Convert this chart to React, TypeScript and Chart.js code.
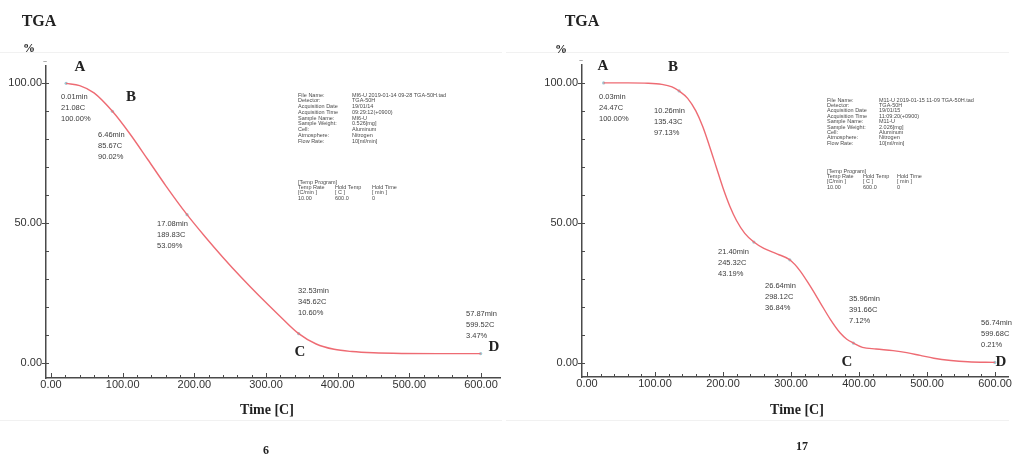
import React, { useEffect, useRef } from "react";
import { Chart, registerables } from "chart.js";

Chart.register(...registerables);

// ---------- data ----------
const X_MAJOR = [0, 100, 200, 300, 400, 500, 600];
const Y_MAJOR = [0, 50, 100];

// Sample 6 (left)
const LEFT_TEMP = [21.08, 40, 60, 85.67, 110, 135, 160, 189.83, 215, 240, 265, 290, 318, 345.62, 370, 395, 420, 450, 490, 540, 599.52];
const LEFT_MASS = [100, 99.2, 96.6, 90.02, 82, 72.8, 63.5, 53.09, 45.2, 37.8, 30.8, 24.2, 17.2, 10.6, 6.9, 5.0, 4.2, 3.75, 3.52, 3.46, 3.47];
const LEFT_MARK_TEMP = [21.08, 85.67, 189.83, 345.62, 599.52];
const LEFT_MARK_MASS = [100, 90.02, 53.09, 10.6, 3.47];
const LEFT_MARK_TEXT = [
  ["0.01min", "21.08C", "100.00%"],
  ["6.46min", "85.67C", "90.02%"],
  ["17.08min", "189.83C", "53.09%"],
  ["32.53min", "345.62C", "10.60%"],
  ["57.87min", "599.52C", "3.47%"],
];
const LEFT_INFO_VALUES = ["MI6-U 2019-01-14 09-28 TGA-50H.tad", "TGA-50H", "19/01/14", "09:29:12(+0900)", "MI6-U", "0.526[mg]", "Aluminum", "Nitrogen", "10[ml/min]"];
const LEFT_NUMBER = "6";

// Sample 17 (right)
const RIGHT_TEMP = [24.47, 60, 90, 110, 125, 135.43, 148, 160, 170, 180, 190, 200, 210, 220, 232, 245.32, 260, 280, 298.12, 313, 328, 343, 358, 372, 382, 391.66, 405, 425, 450, 470, 490, 510, 535, 560, 599.68];
const RIGHT_MASS = [100, 100, 99.9, 99.5, 98.6, 97.13, 94.5, 90.0, 84.5, 77.5, 70.0, 62.5, 56.0, 50.8, 46.3, 43.19, 40.9, 38.9, 36.84, 33.0, 27.5, 21.5, 15.5, 10.8, 8.5, 7.12, 5.6, 5.0, 4.4, 3.7, 2.7, 1.7, 0.9, 0.45, 0.21];
const RIGHT_MARK_TEMP = [24.47, 135.43, 245.32, 298.12, 391.66, 599.68];
const RIGHT_MARK_MASS = [100, 97.13, 43.19, 36.84, 7.12, 0.21];
const RIGHT_MARK_TEXT = [
  ["0.03min", "24.47C", "100.00%"],
  ["10.26min", "135.43C", "97.13%"],
  ["21.40min", "245.32C", "43.19%"],
  ["26.64min", "298.12C", "36.84%"],
  ["35.96min", "391.66C", "7.12%"],
  ["56.74min", "599.68C", "0.21%"],
];
const RIGHT_INFO_VALUES = ["M11-U 2019-01-15 11-09 TGA-50H.tad", "TGA-50H", "19/01/15", "11:09:20(+0900)", "M11-U", "2.026[mg]", "Aluminum", "Nitrogen", "10[ml/min]"];
const RIGHT_NUMBER = "17";

const INFO_KEYS = ["File Name:", "Detector:", "Acquisition Date", "Acquisition Time", "Sample Name:", "Sample Weight:", "Cell:", "Atmosphere:", "Flow Rate:"];
const TEMP_PROGRAM = [
  ["[Temp Program]"],
  ["Temp Rate", "Hold Temp", "Hold Time"],
  ["[C/min ]", "[ C ]", "[ min ]"],
  ["10.00", "600.0", "0"],
];
const POINT_LETTERS = ["A", "B", "C", "D"];
const CHART_TITLE = "TGA";
const Y_UNIT = "%";
const X_TITLE = "Time [C]";

// ---------- layout (canvas-local pixels) ----------
const H = 459;
const LEFT_LAYOUT = {
  offset: 0, width: 506,
  area: { left: 46, right: 500, top: 66, bottom: 378 },
  x: { min: -7, max: 626.5 }, y: { min: -5.25, max: 106.2 },
  title: [39, 22], unit: [29, 49], xTitle: [267, 410], number: [266, 451],
  letters: [[80, 67], [131, 97], [300, 352], [494, 347]],
  labels: [[61, 97], [98, 135], [157, 224], [298, 291], [466, 314]],
  labelStep: 11,
  info: { x: 298, col: 352, y: 95, step: 5.75, tpY: 182, tpStep: 5.4, tpCols: [298, 335, 372] },
};
const RIGHT_LAYOUT = {
  offset: 506, width: 507,
  area: { left: 76, right: 502, top: 65, bottom: 377 },
  x: { min: -7.35, max: 619 }, y: { min: -5, max: 106.4 },
  title: [76, 22], unit: [55, 50], xTitle: [291, 410], number: [296, 447],
  letters: [[97, 66], [167, 67], [341, 362], [495, 362]],
  labels: [[93, 97], [148, 111], [212, 252], [259, 286], [343, 299], [475, 323]],
  labelStep: 10.8,
  info: { x: 321, col: 373, y: 100, step: 5.4, tpY: 171, tpStep: 5.4, tpCols: [321, 357, 391] },
};

const CURVE_COLOR = "#ee6b73";
const AXIS_COLOR = "#4a4a4a";

type Panel = {
  layout: typeof LEFT_LAYOUT;
  temp: number[]; mass: number[];
  markTemp: number[]; markMass: number[]; markText: string[][];
  infoValues: string[]; number: string;
};

const PANELS: Panel[] = [
  { layout: LEFT_LAYOUT, temp: LEFT_TEMP, mass: LEFT_MASS, markTemp: LEFT_MARK_TEMP, markMass: LEFT_MARK_MASS, markText: LEFT_MARK_TEXT, infoValues: LEFT_INFO_VALUES, number: LEFT_NUMBER },
  { layout: RIGHT_LAYOUT, temp: RIGHT_TEMP, mass: RIGHT_MASS, markTemp: RIGHT_MARK_TEMP, markMass: RIGHT_MARK_MASS, markText: RIGHT_MARK_TEXT, infoValues: RIGHT_INFO_VALUES, number: RIGHT_NUMBER },
];

function overlay(p: Panel) {
  const L = p.layout;
  return {
    id: "overlay",
    beforeDraw(chart: any) {
      const ctx = chart.ctx;
      ctx.save();
      ctx.fillStyle = "#ffffff";
      ctx.fillRect(0, 0, chart.width, chart.height);
      ctx.strokeStyle = "#f1f1f1";
      ctx.lineWidth = 1;
      ctx.beginPath();
      ctx.moveTo(0, 52.5); ctx.lineTo(chart.width - 4, 52.5);
      ctx.moveTo(0, 420.5); ctx.lineTo(chart.width - 4, 420.5);
      ctx.stroke();
      ctx.restore();
    },
    afterDraw(chart: any) {
      const ctx = chart.ctx;
      const xs = chart.scales.x;
      const ys = chart.scales.y;
      const a = chart.chartArea;
      ctx.save();
      // ticks
      ctx.strokeStyle = AXIS_COLOR;
      ctx.lineWidth = 1;
      ctx.beginPath();
      for (let v = 0; v <= 600; v += 20) {
        const px = Math.round(xs.getPixelForValue(v)) + 0.5;
        const major = v % 100 === 0;
        ctx.moveTo(px, a.bottom);
        ctx.lineTo(px, a.bottom - (major ? 5 : 3));
      }
      for (let v = 0; v <= 100; v += 10) {
        const py = Math.round(ys.getPixelForValue(v)) + 0.5;
        const major = v % 50 === 0;
        ctx.moveTo(a.left - (major ? 4 : 0), py);
        ctx.lineTo(a.left + 3, py);
      }
      ctx.stroke();
      // axis top squiggle
      ctx.fillStyle = "#666";
      ctx.font = "7px 'Liberation Sans', Arial, sans-serif";
      ctx.textAlign = "center";
      ctx.textBaseline = "middle";
      ctx.fillText("~", a.left - 1, a.top - 4);

      // titles
      ctx.fillStyle = "#222";
      ctx.font = "bold 16px 'Liberation Serif', 'Times New Roman', serif";
      ctx.fillText(CHART_TITLE, L.title[0], L.title[1]);
      ctx.font = "bold 12px 'Liberation Serif', 'Times New Roman', serif";
      ctx.fillText(Y_UNIT, L.unit[0], L.unit[1]);
      ctx.font = "bold 14px 'Liberation Serif', 'Times New Roman', serif";
      ctx.fillText(X_TITLE, L.xTitle[0], L.xTitle[1]);
      ctx.font = "bold 12px 'Liberation Serif', 'Times New Roman', serif";
      ctx.fillText(p.number, L.number[0], L.number[1]);

      // letters
      ctx.font = "bold 15px 'Liberation Serif', 'Times New Roman', serif";
      POINT_LETTERS.forEach((t, i) => {
        ctx.fillText(t, L.letters[i][0], L.letters[i][1]);
      });

      // point annotations
      ctx.fillStyle = "#3c3c3c";
      ctx.font = "7.5px 'Liberation Sans', Arial, sans-serif";
      ctx.textAlign = "left";
      p.markText.forEach((lines, i) => {
        lines.forEach((t, j) => {
          ctx.fillText(t, L.labels[i][0], L.labels[i][1] + j * L.labelStep);
        });
      });

      // info box
      ctx.fillStyle = "#4a4a4a";
      ctx.font = "5.5px 'Liberation Sans', Arial, sans-serif";
      INFO_KEYS.forEach((k, i) => {
        const y = L.info.y + i * L.info.step;
        ctx.fillText(k, L.info.x, y);
        ctx.fillText(p.infoValues[i], L.info.col, y);
      });
      TEMP_PROGRAM.forEach((row, i) => {
        const y = L.info.tpY + i * L.info.tpStep;
        row.forEach((t, j) => ctx.fillText(t, L.info.tpCols[j], y));
      });
      ctx.restore();
    },
  };
}

function PanelChart({ p }: { p: Panel }) {
  const ref = useRef<HTMLCanvasElement | null>(null);
  useEffect(() => {
    const L = p.layout;
    const canvas = ref.current!;
    const curve = p.temp.map((t, i) => ({ x: t, y: p.mass[i] }));
    const marks = p.markTemp.map((t, i) => ({ x: t, y: p.markMass[i] }));
    const chart = new Chart(canvas, {
      type: "scatter",
      data: {
        datasets: [
          {
            data: curve,
            showLine: true,
            borderColor: CURVE_COLOR,
            borderWidth: 1.4,
            pointRadius: 0,
            cubicInterpolationMode: "monotone",
            fill: false,
          } as any,
          {
            data: marks,
            showLine: false,
            pointRadius: 1.6,
            pointBackgroundColor: "#9fc9d3",
            pointBorderWidth: 0,
          } as any,
        ],
      },
      options: {
        responsive: false,
        animation: false,
        events: [],
        layout: { padding: { left: 0, top: L.area.top, right: L.width - L.area.right, bottom: 0 } },
        plugins: { legend: { display: false }, tooltip: { enabled: false } },
        scales: {
          x: {
            type: "linear",
            min: L.x.min,
            max: L.x.max,
            grid: { display: false, drawTicks: false },
            border: { display: true, color: AXIS_COLOR, width: 1.5 },
            ticks: {
              padding: 0,
              color: "#333",
              font: { family: "'Liberation Sans', Arial, sans-serif", size: 11 },
              maxRotation: 0,
              autoSkip: false,
              callback: (v: any) => Number(v).toFixed(2),
            },
            afterBuildTicks: (s: any) => { s.ticks = X_MAJOR.map((v) => ({ value: v })); },
            afterFit: (s: any) => { s.height = H - L.area.bottom; },
          },
          y: {
            type: "linear",
            min: L.y.min,
            max: L.y.max,
            grid: { display: false, drawTicks: false },
            border: { display: true, color: AXIS_COLOR, width: 1.5 },
            ticks: {
              padding: 4,
              color: "#333",
              font: { family: "'Liberation Sans', Arial, sans-serif", size: 11 },
              autoSkip: false,
              callback: (v: any) => Number(v).toFixed(2),
            },
            afterBuildTicks: (s: any) => { s.ticks = Y_MAJOR.map((v) => ({ value: v })); },
            afterFit: (s: any) => { s.width = L.area.left; },
          },
        },
      } as any,
      plugins: [overlay(p)],
    });
    return () => chart.destroy();
  }, [p]);
  const L = p.layout;
  return (
    <canvas
      ref={ref}
      width={L.width}
      height={H}
      style={{ position: "absolute", left: L.offset, top: 0, width: L.width, height: H, display: "block" }}
    />
  );
}

export default function App() {
  return (
    <div style={{ position: "absolute", left: 0, top: 0, width: 1013, height: H, background: "#fff", overflow: "hidden" }}>
      {PANELS.map((p, i) => (
        <PanelChart key={i} p={p} />
      ))}
    </div>
  );
}
